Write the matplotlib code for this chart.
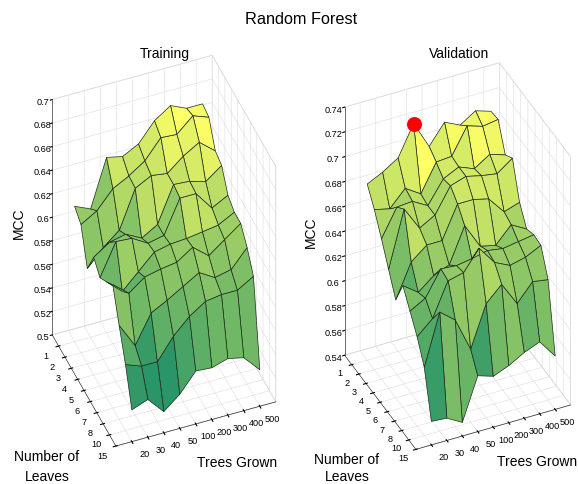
import numpy as np
import matplotlib
matplotlib.use("Agg")
import matplotlib.pyplot as plt
from matplotlib.colors import Normalize
from mpl_toolkits.mplot3d import proj3d

plt.rcParams['font.family'] = ['Liberation Sans', 'DejaVu Sans']

trees = ['20', '30', '40', '50', '100', '200', '300', '400', '500']
leaves = ['1', '2', '3', '4', '5', '6', '7', '8', '10', '15']

# MCC, rows = leaves, columns = trees
training = np.array([
    [.615, .609, .649, .646, .653, .669, .678, .672, .672],
    [.609, .617, .632, .639, .648, .664, .663, .675, .670],
    [.581, .595, .606, .638, .645, .643, .654, .662, .651],
    [.600, .609, .612, .605, .613, .643, .642, .638, .648],
    [.592, .619, .618, .610, .613, .641, .641, .625, .632],
    [.598, .586, .599, .612, .615, .616, .618, .620, .627],
    [.605, .594, .604, .607, .609, .618, .607, .617, .627],
    [.580, .559, .583, .590, .598, .606, .598, .601, .616],
    [.556, .551, .551, .569, .582, .591, .593, .593, .601],
    [.527, .532, .518, .529, .545, .544, .548, .545, .531],
])
validation = np.array([
    [.682, .688, .696, .720, .698, .714, .708, .716, .712],
    [.669, .666, .679, .671, .693, .694, .715, .711, .713],
    [.653, .675, .676, .669, .687, .693, .688, .696, .692],
    [.636, .681, .662, .669, .689, .693, .690, .688, .697],
    [.619, .646, .656, .656, .682, .682, .679, .665, .669],
    [.638, .629, .639, .644, .672, .652, .649, .662, .655],
    [.625, .632, .652, .651, .653, .656, .654, .656, .658],
    [.612, .623, .650, .653, .669, .654, .648, .651, .657],
    [.595, .636, .626, .599, .632, .644, .625, .639, .637],
    [.559, .558, .551, .585, .581, .586, .593, .598, .583],
])
train_zticks = [.5, .52, .54, .56, .58, .6, .62, .64, .66, .68, .7]
val_zticks = [.54, .56, .58, .6, .62, .64, .66, .68, .7, .72, .74]

TICK_SIZE = 6.6


def floor_label(ax, x, y, z, s, offset):
    # matplotlib puts the floor tick labels too far out, so hang them off the tick by hand
    x2, y2, _ = proj3d.proj_transform(x, y, z, ax.get_proj())
    ax.annotate(s, xy=(x2, y2), xytext=offset, textcoords='offset pixels',
                fontsize=TICK_SIZE, ha='center', va='center', annotation_clip=False)


def draw_panel(fig, rect, Z, zticks, elev, azim, aspect, zoom, xoff, yoff, zpad):
    ax = fig.add_axes(rect, projection='3d', computed_zorder=False)
    ax.set_proj_type('ortho')
    X, Y = np.meshgrid(np.arange(1, len(trees) + 1), np.arange(1, len(leaves) + 1))
    span = Z.max() - Z.min()
    # each facet takes the colour of its first corner, like MATLAB's surf
    norm = Normalize(Z.min() + 0.05 * span, Z.max())
    surf = ax.plot_surface(X, Y, Z, facecolors=plt.cm.summer(norm(Z)), rstride=1, cstride=1,
                           shade=False, edgecolor='#1c2a1c', linewidth=0.5, antialiased=True)
    surf.set_clip_on(False)
    ax.set_xlim(0, 10)
    ax.set_ylim(10, 0)
    ax.set_zlim(zticks[0], zticks[-1])
    ax.set_xticks(np.arange(1, 10))
    ax.set_xticklabels([])
    ax.set_yticks(np.arange(1, 11))
    ax.set_yticklabels([])
    ax.set_zticks(zticks)
    ax.set_zticklabels(['%g' % z for z in zticks], fontsize=TICK_SIZE)
    ax.tick_params(axis='z', pad=zpad, length=2)
    ax.tick_params(axis='x', length=2)
    ax.tick_params(axis='y', length=2)
    for axis in (ax.xaxis, ax.yaxis, ax.zaxis):
        axis.set_pane_color((1, 1, 1, 1))
        axis.pane.set_edgecolor('#d8d8d8')
        axis.pane.set_linewidth(0.5)
        axis._axinfo['grid'].update(color='#dddddd', linewidth=0.4)
        axis.line.set_linewidth(0.5)
        axis.line.set_color('#333333')
    ax.zaxis._axinfo['tick'].update(inward_factor=0.15, outward_factor=0.0)
    ax.view_init(elev=elev, azim=azim)
    ax.set_box_aspect(aspect, zoom=zoom)
    ax.patch.set_alpha(0)
    for n, s in enumerate(trees):
        floor_label(ax, n + 1, 10, zticks[0], s, xoff)
    for n, s in enumerate(leaves):
        floor_label(ax, 0, n + 1, zticks[0], s, yoff)
    return ax


def label(fig, x, y, s, size=10, **kw):
    # x, y in image pixels
    fig.text(x / 578, 1 - y / 485, s, ha='center', va='center', fontsize=size, **kw)


fig = plt.figure(figsize=(5.78, 4.85), dpi=100)
ax1 = draw_panel(fig, [0.027, -0.002, 0.5, 0.95], training, train_zticks, 44, 248.3,
                 (172, 172, 327), 1.37, (12.5, -12), (-13, -9), -3.5)
ax2 = draw_panel(fig, [0.535, -0.013, 0.5, 0.95], validation, val_zticks, 38, 245,
                 (167, 165, 308), 1.33, (12.5, -12), (-12, -8), -2.5)
i = np.unravel_index(validation.argmax(), validation.shape)
marker = ax2.scatter([i[1] + 1], [i[0] + 1], [validation.max()], s=95, c='#ff0000',
                     depthshade=False, zorder=10)
marker.set_clip_on(False)

label(fig, 301, 20, 'Random Forest', size=11.7)
label(fig, 165, 54, 'Training')
label(fig, 459, 54, 'Validation')
label(fig, 19, 223, 'MCC', rotation=90)
label(fig, 311, 232, 'MCC', rotation=90)
label(fig, 47, 457, 'Number of')
label(fig, 47, 477, 'Leaves')
label(fig, 347, 460, 'Number of')
label(fig, 347, 477, 'Leaves')
label(fig, 237, 463, 'Trees Grown')
label(fig, 537, 462, 'Trees Grown')

fig.savefig('out.png', dpi=100)
